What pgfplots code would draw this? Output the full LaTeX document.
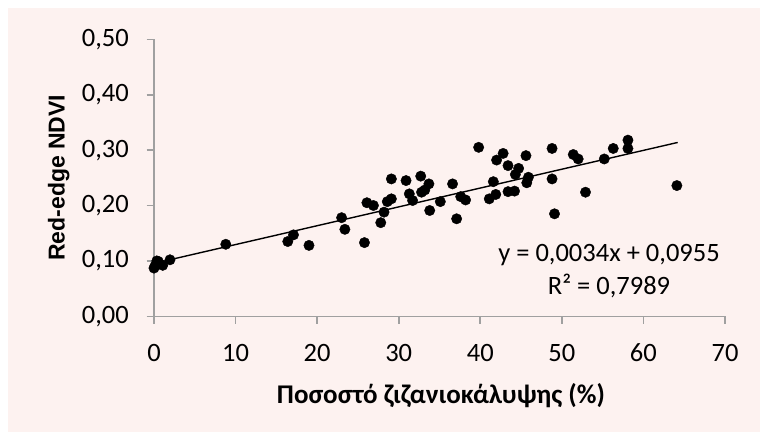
\documentclass[border=0pt]{standalone}
\usepackage{fontspec}
\setmainfont{Carlito}
\newfontfamily\arialfont{Liberation Sans}
\usepackage{pgfplots}
\pgfplotsset{compat=1.18}
\definecolor{bgpink}{RGB}{253,242,240}
\definecolor{axisgray}{RGB}{160,160,160}
\begin{document}
\begin{tikzpicture}
\fill[white] (0,0) rectangle (760pt,432pt);
\fill[bgpink] (8pt,0pt) rectangle (760pt,424pt);
\begin{axis}[
    at={(154pt,115.7pt)}, anchor=south west,
    width=571pt, height=277pt, scale only axis,
    xmin=0, xmax=70, ymin=0, ymax=0.5,
    clip=false,
    axis lines=left,
    axis line style={-, draw=axisgray, line width=1.6pt},
    tick align=outside, major tick length=7.5pt,
    tick style={draw=axisgray, line width=1.6pt},
    xtick={0,10,20,30,40,50,60,70},
    ytick={0,0.1,0.2,0.3,0.4,0.5},
    /pgf/number format/assume math mode=true,
    ticklabel style={font=\fontsize{26.5}{30}\selectfont, inner sep=0pt},
    xticklabel style={anchor=base, yshift=-37.9pt},
    yticklabel style={anchor=east, xshift=-17.5pt,
        /pgf/number format/.cd, fixed, fixed zerofill, precision=2, use comma},
    xlabel={\bfseries Ποσοστό ζιζανιοκάλυψης (\%)},
    ylabel={\arialfont\bfseries Red-edge NDVI},
    every axis x label/.style={at={(axis description cs:0.5026,-0.314)}, anchor=base,
        font=\fontsize{27}{30}\selectfont},
    every axis y label/.style={at={(axis description cs:-0.167,0.5)}, anchor=center, rotate=90,
        font=\fontsize{23}{26}\selectfont},
]
% measured points
\addplot[only marks, mark=*, mark size=5.2pt, mark options={fill=black, draw=black}] coordinates {
    (0.0,0.087) (0.12,0.091) (0.35,0.100) (0.53,0.099) (1.07,0.092) (1.96,0.102)
    (8.8,0.130) (16.4,0.135) (17.1,0.147) (19.0,0.128) (23.0,0.178) (23.4,0.157)
    (25.8,0.133) (26.1,0.205) (26.9,0.200) (27.8,0.169) (28.2,0.188) (28.6,0.207)
    (29.1,0.212) (29.1,0.248) (30.9,0.245) (31.3,0.221) (31.7,0.209) (32.7,0.253)
    (32.8,0.224) (33.2,0.228) (33.7,0.239) (33.8,0.191) (35.1,0.207) (36.6,0.239)
    (37.1,0.176) (37.6,0.216) (38.2,0.210) (39.8,0.305) (41.1,0.212) (41.6,0.243)
    (41.9,0.220) (42.0,0.282) (42.8,0.294) (43.4,0.272) (43.4,0.225) (44.2,0.226)
    (44.3,0.256) (44.7,0.267) (45.6,0.290) (45.7,0.241) (45.9,0.251) (48.8,0.303)
    (48.8,0.248) (49.1,0.185) (51.4,0.292) (52.0,0.284) (52.9,0.224) (55.2,0.284)
    (56.3,0.303) (58.1,0.318) (58.1,0.303) (64.1,0.236)
};
% linear trend line
\addplot[black, line width=1.4pt] coordinates {(0,0.0955) (64.2,0.3138)};
\node[anchor=base, font=\fontsize{26.5}{30}\selectfont] at (axis cs:55.78,0.0998) {y = 0,0034x + 0,0955};
\node[anchor=base, font=\fontsize{26.5}{30}\selectfont] at (axis cs:55.78,0.0397) {R² = 0,7989};
\end{axis}
\pgfresetboundingbox
\path (0,0) rectangle (760pt,432pt);
\end{tikzpicture}
\end{document}
